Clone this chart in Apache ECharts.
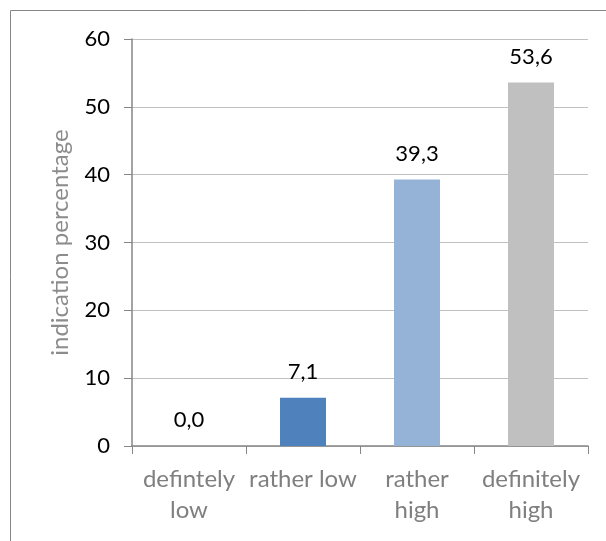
<!DOCTYPE html>
<html>
<head>
<meta charset="utf-8">
<script src="https://cdn.jsdelivr.net/npm/echarts@6/dist/echarts.min.js"></script>
<style>
  html, body { margin: 0; padding: 0; background: #fff; }
  #chart { width: 606px; height: 541px; }
</style>
</head>
<body>
<div id="chart"></div>
<script>
// Answer categories and share of indications (%)
const categories = ['defintely\nlow', 'rather low', 'rather\nhigh', 'definitely\nhigh'];
const values = [0.0, 7.1, 39.3, 53.6];
const barColors = ['#4f81bd', '#4f81bd', '#95b3d7', '#c0c0c0'];
const yTicks = { min: 0, max: 60, interval: 10 };

const FONT = 'Lato, "Open Sans", sans-serif';

const chart = echarts.init(document.getElementById('chart'), null, { renderer: 'canvas' });

chart.setOption({
  animation: false,
  backgroundColor: '#fff',
  graphic: [{
    // chart-area frame (runs past the right and bottom edges)
    type: 'rect',
    shape: { x: 10.5, y: 10.5, width: 700, height: 700 },
    style: { fill: 'none', stroke: '#878787', lineWidth: 1 },
    silent: true
  }],
  grid: { left: 132, right: 18, top: 39, bottom: 95, containLabel: false },
  xAxis: {
    type: 'category',
    data: categories,
    axisLine: { show: true, lineStyle: { color: '#868686', width: 1.5 } },
    axisTick: { show: true, alignWithLabel: false, length: 8, lineStyle: { color: '#868686' } },
    axisLabel: {
      color: '#7f7f7f', fontSize: 24, fontFamily: FONT,
      lineHeight: 31, margin: 18, interval: 0
    },
    splitLine: { show: false }
  },
  yAxis: {
    type: 'value',
    min: yTicks.min, max: yTicks.max, interval: yTicks.interval,
    name: 'indication percentage',
    nameLocation: 'middle',
    nameGap: 60,
    nameRotate: 90,
    nameTextStyle: { color: '#8c8c8c', fontSize: 24, fontFamily: FONT },
    axisLine: { show: true, lineStyle: { color: '#868686', width: 1.5 } },
    axisTick: { show: true, length: 8, lineStyle: { color: '#868686' } },
    axisLabel: { color: '#000', fontSize: 22, fontFamily: FONT, margin: 22 },
    splitLine: { show: true, lineStyle: { color: '#c0c0c0', width: 1 } }
  },
  series: [{
    type: 'bar',
    barWidth: 46,
    data: values.map((v, i) => ({ value: v, itemStyle: { color: barColors[i] } })),
    label: {
      show: true,
      position: 'top',
      distance: 15,
      color: '#000',
      fontSize: 22,
      fontFamily: FONT,
      formatter: p => p.value.toFixed(1).replace('.', ',')
    }
  }]
});
</script>
</body>
</html>
